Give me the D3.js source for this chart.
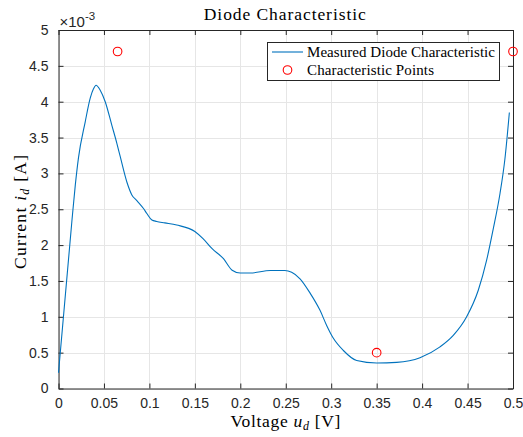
<!DOCTYPE html>
<html>
<head>
<meta charset="utf-8">
<script src="https://cdn.jsdelivr.net/npm/d3@7/dist/d3.min.js"></script>
<style>
  html, body { margin: 0; padding: 0; background: #fff; }
  svg { display: block; }
</style>
</head>
<body>
<svg id="chart" width="523" height="437"></svg>
<script>
// ---- data (current in units of 1e-3 A) ----
const voltage = [0, 0.0147, 0.0185, 0.022, 0.0294, 0.0349, 0.0385, 0.0413, 0.0459, 0.0514, 0.0587, 0.0642, 0.0678, 0.0752, 0.0807, 0.0862, 0.0935, 0.0972, 0.1027, 0.108, 0.117, 0.130, 0.150, 0.159, 0.169, 0.1815, 0.191, 0.200, 0.211, 0.233, 0.249, 0.2565, 0.2657, 0.2768, 0.2877, 0.295, 0.3024, 0.3134, 0.328, 0.350, 0.372, 0.3977, 0.4197, 0.4343, 0.449, 0.4618, 0.471, 0.478, 0.4857, 0.491, 0.496];
const current = [0.22, 2.33, 2.84, 3.22, 3.72, 4.05, 4.18, 4.23, 4.16, 4.0, 3.67, 3.42, 3.24, 2.88, 2.70, 2.62, 2.51, 2.44, 2.35, 2.33, 2.31, 2.28, 2.19, 2.09, 1.95, 1.81, 1.65, 1.61, 1.61, 1.645, 1.645, 1.62, 1.53, 1.33, 1.09, 0.88, 0.70, 0.53, 0.39, 0.355, 0.365, 0.43, 0.58, 0.74, 1.0, 1.37, 1.79, 2.21, 2.72, 3.19, 3.85];
const pointVoltage = [0.065, 0.35, 0.5];
const pointCurrent = [4.7, 0.5, 4.7];
const xTicks = [0, 0.05, 0.1, 0.15, 0.2, 0.25, 0.3, 0.35, 0.4, 0.45, 0.5];
const xTickLabels = ["0", "0.05", "0.1", "0.15", "0.2", "0.25", "0.3", "0.35", "0.4", "0.45", "0.5"];
const yTicks = [0, 0.5, 1, 1.5, 2, 2.5, 3, 3.5, 4, 4.5, 5];
const yTickLabels = ["0", "0.5", "1", "1.5", "2", "2.5", "3", "3.5", "4", "4.5", "5"];
const seriesNames = ["Measured Diode Characteristic", "Characteristic Points"];

// ---- layout ----
const L = 58.5, R = 513, T = 30, B = 388.5;
const axisColor = "#262626", gridColor = "#e6e6e6";
const lineColor = "#0072BD", pointColor = "#FF0000";
const serif = "'Liberation Serif', 'Times New Roman', serif";
const sans = "'Liberation Sans', Arial, Helvetica, sans-serif";

const svg = d3.select("#chart");
const x = d3.scaleLinear().domain([0, 0.5]).range([L, R]);
const y = d3.scaleLinear().domain([0, 5]).range([B, T]);

// stretch a text element's letter spacing so its width matches the target
function fitWidth(sel, target) {
  const node = sel.node();
  const w = node.getComputedTextLength();
  const n = node.textContent.length;
  if (n > 1) sel.attr("letter-spacing", ((target - w) / (n - 1)).toFixed(3));
}

// grid
const grid = svg.append("g");
grid.selectAll("line.vx").data(xTicks).join("line")
  .attr("x1", d => Math.round(x(d)) + 0.5).attr("x2", d => Math.round(x(d)) + 0.5)
  .attr("y1", T).attr("y2", B)
  .attr("stroke", gridColor).attr("stroke-width", 1);
grid.selectAll("line.hy").data(yTicks).join("line")
  .attr("y1", d => Math.round(y(d)) + 0.5).attr("y2", d => Math.round(y(d)) + 0.5)
  .attr("x1", L).attr("x2", R)
  .attr("stroke", gridColor).attr("stroke-width", 1);

// axes (ticks inside)
const tick = 5;
const xAxisB = d3.axisBottom(x).tickValues(xTicks).tickFormat((d, i) => xTickLabels[i]).tickSizeInner(-tick).tickSizeOuter(0).tickPadding(10);
const xAxisT = d3.axisTop(x).tickValues(xTicks).tickFormat("").tickSizeInner(-tick).tickSizeOuter(0);
const yAxisL = d3.axisLeft(y).tickValues(yTicks).tickFormat((d, i) => yTickLabels[i]).tickSizeInner(-tick).tickSizeOuter(0).tickPadding(10);
const yAxisR = d3.axisRight(y).tickValues(yTicks).tickFormat("").tickSizeInner(-tick).tickSizeOuter(0);

function styleAxis(g) {
  g.selectAll("path").attr("stroke", axisColor).attr("stroke-width", 1);
  g.selectAll("line").attr("stroke", axisColor).attr("stroke-width", 1);
  g.selectAll("text").attr("fill", axisColor).style("font-family", sans).style("font-size", "14px");
}
svg.append("g").attr("transform", `translate(0,${B})`).call(xAxisB).call(styleAxis);
svg.append("g").attr("transform", `translate(0,${T})`).call(xAxisT).call(styleAxis);
svg.append("g").attr("transform", `translate(${L},0)`).call(yAxisL).call(styleAxis);
svg.append("g").attr("transform", `translate(${R},0)`).call(yAxisR).call(styleAxis);

// data line
const data = voltage.map((v, i) => [v, current[i]]);
svg.append("path").datum(data)
  .attr("fill", "none").attr("stroke", lineColor).attr("stroke-width", 1.1)
  .attr("d", d3.line().x(d => x(d[0])).y(d => y(d[1])).curve(d3.curveMonotoneX));

// points
svg.append("g").selectAll("circle").data(pointVoltage.map((v, i) => [v, pointCurrent[i]])).join("circle")
  .attr("cx", d => x(d[0])).attr("cy", d => y(d[1])).attr("r", 4.3)
  .attr("fill", "none").attr("stroke", pointColor).attr("stroke-width", 1.1);

// exponent label
const ex = svg.append("text").attr("x", 59.5).attr("y", 26.5).attr("fill", axisColor)
  .style("font-family", sans).style("font-size", "15px");
ex.append("tspan").text("\u00d710");
ex.append("tspan").attr("dy", -6.5).style("font-size", "11.5px").text("-3");

// title
const title = svg.append("text").attr("x", (L + R) / 2 - 0.5).attr("y", 19.5).attr("text-anchor", "middle")
  .attr("fill", "#000").style("font-family", serif).style("font-size", "17.5px")
  .text("Diode Characteristic");
fitWidth(title, 162);

// x label
const xl = svg.append("text").attr("x", (L + R) / 2).attr("y", 427).attr("text-anchor", "middle")
  .attr("fill", "#000").style("font-family", serif).style("font-size", "17.5px");
xl.append("tspan").text("Voltage ");
xl.append("tspan").style("font-style", "italic").text("u");
xl.append("tspan").attr("dy", 3).style("font-style", "italic").style("font-size", "12px").text("d");
xl.append("tspan").attr("dy", -3).text(" [V]");
fitWidth(xl, 110);

// y label
const yl = svg.append("text").attr("transform", `translate(26,${(T + B) / 2 + 2}) rotate(-90)`)
  .attr("text-anchor", "middle").attr("fill", "#000")
  .style("font-family", serif).style("font-size", "17.5px");
yl.append("tspan").text("Current ");
yl.append("tspan").style("font-style", "italic").text("i");
yl.append("tspan").attr("dy", 3).style("font-style", "italic").style("font-size", "12px").text("d");
yl.append("tspan").attr("dy", -3).text(" [A]");
fitWidth(yl, 114);

// legend
const lg = svg.append("g");
lg.append("rect").attr("x", 267.5).attr("y", 42.5).attr("width", 232).attr("height", 38)
  .attr("fill", "#fff").attr("stroke", "#262626").attr("stroke-width", 1);
lg.append("line").attr("x1", 272).attr("x2", 303).attr("y1", 52).attr("y2", 52)
  .attr("stroke", lineColor).attr("stroke-width", 1.1);
lg.append("circle").attr("cx", 287.5).attr("cy", 70).attr("r", 4.3)
  .attr("fill", "none").attr("stroke", pointColor).attr("stroke-width", 1.1);
const legendWidths = [188, 127];
lg.selectAll("text").data(seriesNames).join("text")
  .attr("x", 307).attr("y", (d, i) => 56.5 + i * 18)
  .attr("fill", "#000").style("font-family", serif).style("font-size", "15px")
  .text(d => d)
  .each(function(d, i) { fitWidth(d3.select(this), legendWidths[i]); });
</script>
</body>
</html>
